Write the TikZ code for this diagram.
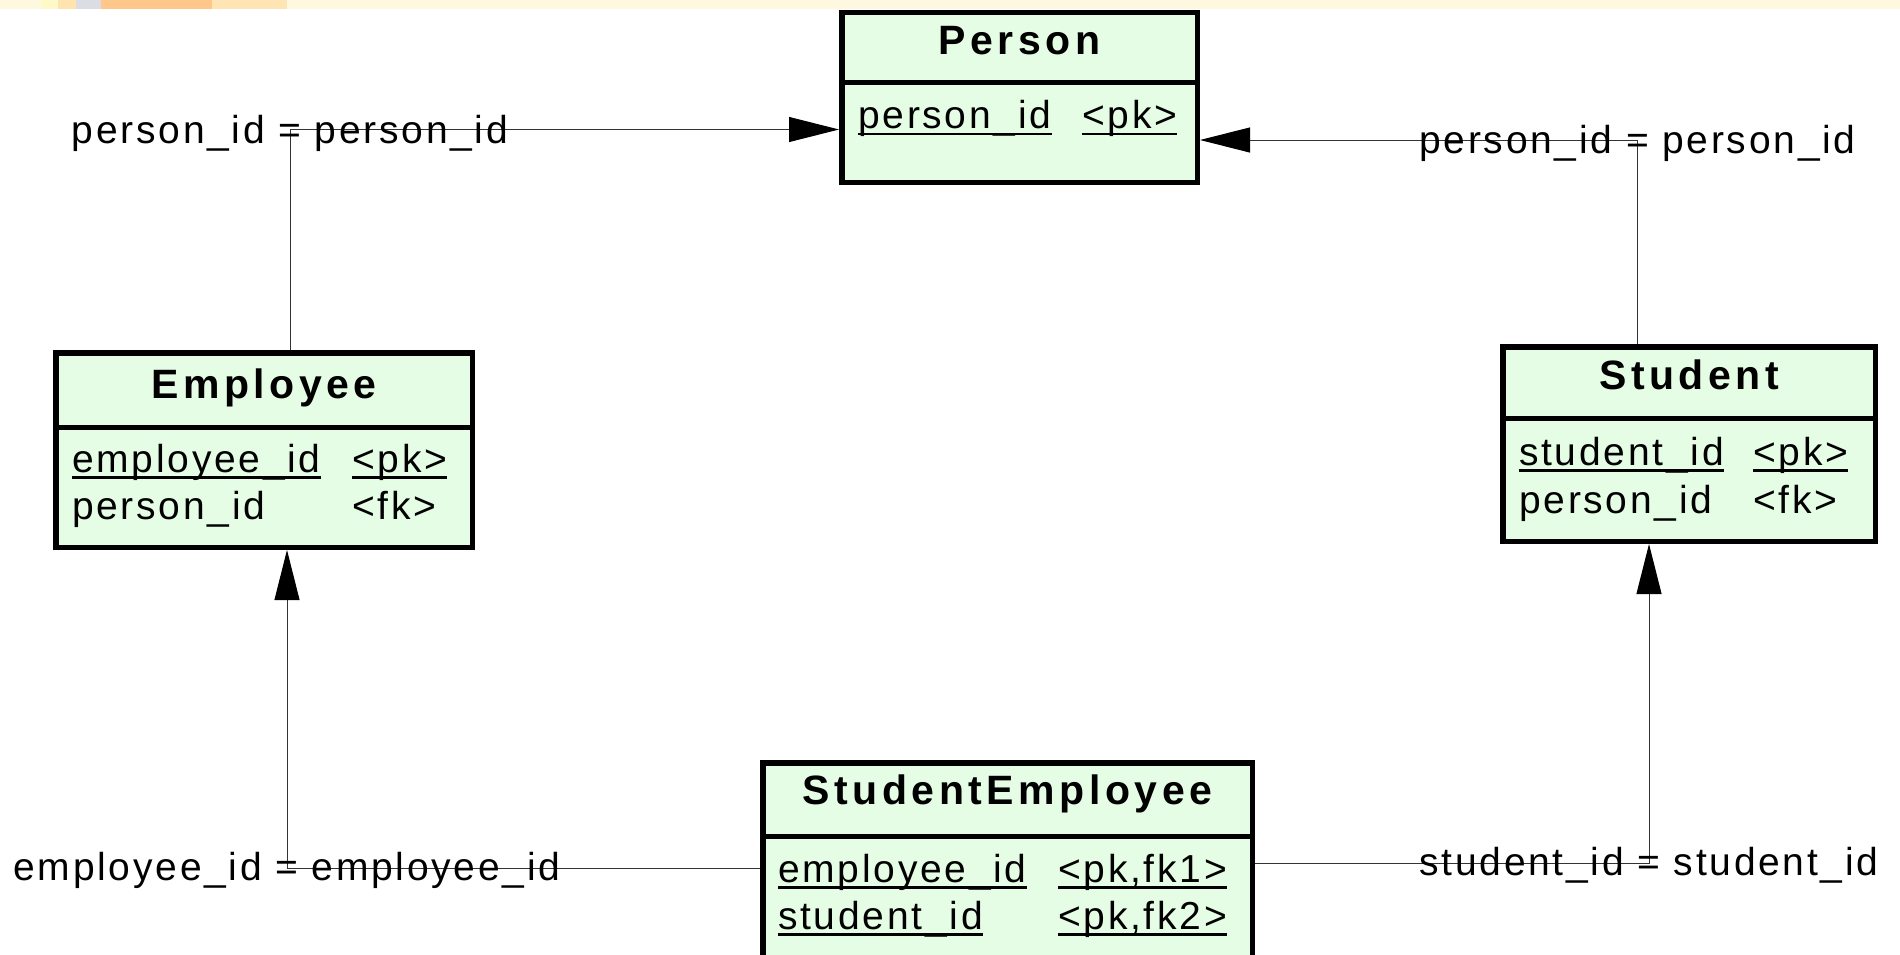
\documentclass[tikz,border=0pt]{standalone}
\usepackage{fontspec}
\setmainfont{Liberation Sans}
\newfontfamily\titlefont[LetterSpace=11]{Liberation Sans}
\newfontfamily\fieldfont[LetterSpace=7]{Liberation Sans}
\usetikzlibrary{arrows.meta}
\definecolor{entityfill}{RGB}{228,253,228}
\definecolor{stripcream}{RGB}{255,248,224}
\definecolor{stripa}{RGB}{255,248,200}
\definecolor{stripb}{RGB}{255,228,176}
\definecolor{stripc}{RGB}{220,220,228}
\definecolor{stripd}{RGB}{255,200,138}
\definecolor{stripe}{RGB}{255,228,180}
\begin{document}
\begin{tikzpicture}[x=1pt,y=-1pt,
  entity/.style={draw=black, fill=entityfill, line width=5.5pt, inner sep=0pt},
  divider/.style={line width=5pt, draw=black},
  title/.style={inner sep=0pt, anchor=base, font=\titlefont\bfseries\fontsize{41}{46}\selectfont},
  field/.style={inner sep=0pt, anchor=base west, font=\fieldfont\fontsize{39}{44}\selectfont},
  rel/.style={inner sep=0pt, anchor=base, font=\fieldfont\fontsize{39}{44}\selectfont},
  keyrule/.style={line width=2.5pt, draw=black},
  link/.style={line width=1pt, draw=black!80, -{Triangle[length=50pt,width=25pt,color=black]}}]
\useasboundingbox (0,0) rectangle (1900,954);
\clip (0,0) rectangle (1900,954);

% window strip along the top edge
\fill[stripcream] (0,0) rectangle (1900,9);
\fill[stripa] (41,0) rectangle (58,9);
\fill[stripb] (58,0) rectangle (76,9);
\fill[stripc] (76,0) rectangle (101,9);
\fill[stripd] (101,0) rectangle (212,9);
\fill[stripe] (212,0) rectangle (287,9);

% entity boxes
\node[entity, minimum width=355.5pt, minimum height=170pt] (person) at (1019.5,97.25) {};
\node[entity, minimum width=416.5pt, minimum height=194.5pt] (employee) at (264,450) {};
\node[entity, minimum width=372.5pt, minimum height=194.5pt] (student) at (1689,444) {};
\node[entity, minimum width=489.5pt, minimum height=234.5pt] (se) at (1007.5,880) {};

% header dividers
\draw[divider] (841.75,82.5) -- (1197.25,82.5);
\draw[divider] (55.75,427.5) -- (472.25,427.5);
\draw[divider] (1502.75,418) -- (1875.25,418);
\draw[divider] (762.75,836) -- (1252.25,836);

% titles
\node[title] (tperson) at (1019.5,54) {Person};
\node[title] (temployee) at (264,398) {Employee};
\node[title] (tstudent) at (1689,389.5) {Student};
\node[title] (tse) at (1007.5,804.5) {StudentEmployee};

% attributes
\node[field] (p1) at (858,128.3) {person\_id};
\node[field] (p1k) at (1082,128.3) {<pk>};

\node[field] (e1) at (72,472) {employee\_id};
\node[field] (e1k) at (352,472) {<pk>};
\node[field] (e2) at (72,519) {person\_id};
\node[field] (e2k) at (352,519) {<fk>};

\node[field] (s1) at (1519,465) {student\_id};
\node[field] (s1k) at (1753,465) {<pk>};
\node[field] (s2) at (1519,513.5) {person\_id};
\node[field] (s2k) at (1753,513.5) {<fk>};

\node[field] (se1) at (778,882) {employee\_id};
\node[field] (se1k) at (1058,882) {<pk,fk1>};
\node[field] (se2) at (778,929) {student\_id};
\node[field] (se2k) at (1058,929) {<pk,fk2>};

% key underlines
\foreach \n in {p1,p1k,e1,e1k,s1,s1k,se1,se1k,se2,se2k}
  \draw[keyrule] ([yshift=-5.5pt]\n.base west) -- ([yshift=-5.5pt]\n.base east);

% reference bends
\coordinate (jp1) at (290,129.5);
\coordinate (jp2) at (1637.5,140);
\coordinate (je) at (287,868);
\coordinate (js) at (1649,863);

% references
\draw[link] (employee.north -| jp1) -- (jp1) -- (person.west |- jp1);
\draw[link] (student.north -| jp2) -- (jp2) -- (person.east |- jp2);
\draw[link] (se.west |- je) -- (je) -- (employee.south -| je);
\draw[link] (se.east |- js) -- (js) -- (student.south -| js);

% join labels
\node[rel] (lab1) at (290,143) {person\_id = person\_id};
\node[rel] (lab2) at (1637.5,153) {person\_id = person\_id};
\node[rel] (lab3) at (287,880) {employee\_id = employee\_id};
\node[rel] (lab4) at (1649,875) {student\_id = student\_id};
\end{tikzpicture}
\end{document}
